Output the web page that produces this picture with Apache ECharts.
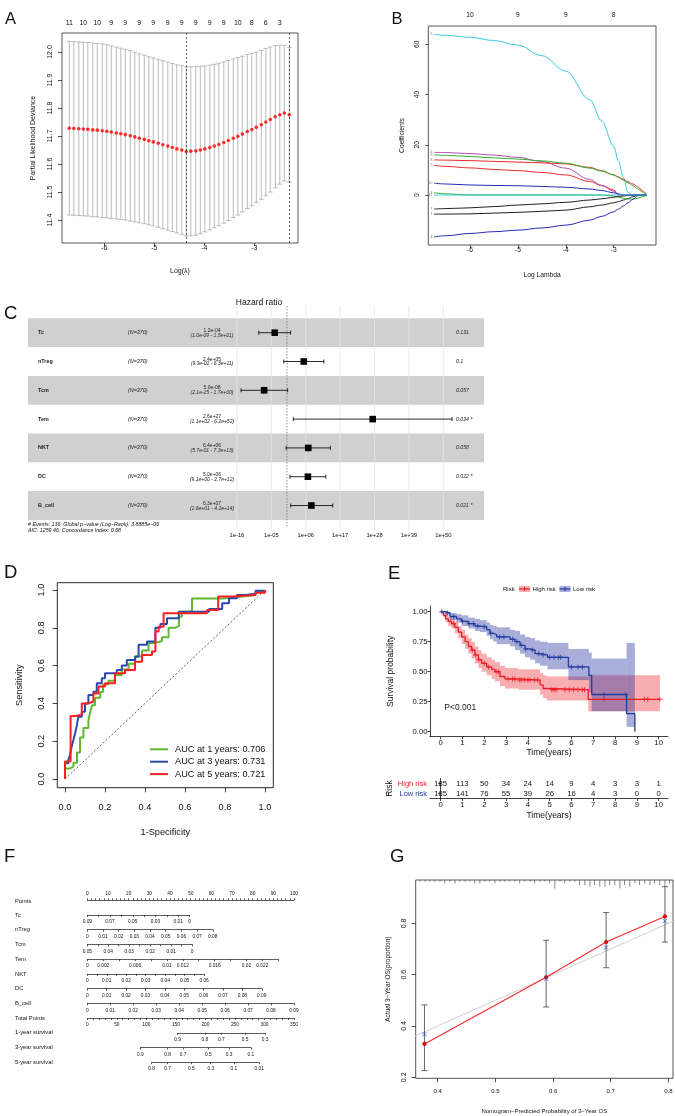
<!DOCTYPE html>
<html lang="en">
<head>
<meta charset="UTF-8">
<title>LASSO-Cox model figure</title>
<script src="https://cdn.jsdelivr.net/npm/echarts@6.0.0/dist/echarts.min.js"></script>
<style>
    * { margin: 0; padding: 0; }
    body { background: #fff; }
    #main { width: 675px; height: 1116px; }
</style>
</head>
<body>
<div id="main"></div>
<script>
var FONT = 'Liberation Sans';

// ---- A: cross-validation curve ----
var cvLambda = [-6.70,-6.61,-6.51,-6.42,-6.33,-6.23,-6.14,-6.04,-5.95,-5.86,
    -5.76,-5.67,-5.58,-5.48,-5.39,-5.30,-5.20,-5.11,-5.02,-4.92,
    -4.83,-4.73,-4.64,-4.55,-4.45,-4.36,-4.27,-4.17,-4.08,-3.99,
    -3.89,-3.80,-3.71,-3.61,-3.52,-3.42,-3.33,-3.24,-3.14,-3.05,
    -2.96,-2.86,-2.77,-2.68,-2.58,-2.49,-2.40,-2.30];
var cvMean = [11.728,11.727,11.726,11.725,11.724,11.722,11.721,11.719,11.717,11.714,
    11.711,11.708,11.705,11.701,11.697,11.692,11.688,11.683,11.679,11.674,
    11.669,11.664,11.659,11.654,11.650,11.645,11.646,11.647,11.650,11.654,
    11.659,11.664,11.670,11.677,11.684,11.692,11.699,11.707,11.716,11.723,
    11.731,11.740,11.750,11.759,11.769,11.776,11.782,11.776];
var cvSd = [0.310,0.310,0.310,0.310,0.310,0.310,0.310,0.310,0.309,0.308,
    0.307,0.306,0.305,0.304,0.303,0.302,0.301,0.300,0.300,0.300,
    0.300,0.300,0.300,0.300,0.301,0.302,0.302,0.301,0.299,0.296,
    0.294,0.292,0.290,0.288,0.286,0.283,0.281,0.278,0.275,0.272,
    0.269,0.266,0.263,0.259,0.254,0.248,0.242,0.240];
var cvNzero = ['11','10','10','9','9','9','9','9','9','9','9','9','10','8','6','3'];
var cvLambdaMin = -4.36;
var cvLambda1se = -2.30;

// ---- B: coefficient paths ----
var coefLambda = [-6.75,-6.5,-6.0,-5.5,-5.0,-4.5,-4.0,-3.5,-3.25,-3.0,-2.9,-2.8,-2.7,-2.6,-2.5,-2.4,-2.31];
var coefVar1 = [-7.6,-7.6,-7.5,-7.2,-6.9,-6.5,-6.0,-4.7,-4.0,-3.1,-2.6,-2.0,-1.4,-0.7,0,0,0];
var coefVar2 = [11.8,11.4,10.8,10.2,9.7,9.0,8.0,5.4,3.8,2.0,0,0,0,0,0,0,0];
var coefVar3 = [0.9,0.5,0,0,0,0,0,0,0,-0.4,-0.8,-1.3,-1.6,-1.6,-1.3,-0.7,0];
var coefVar4 = [-16.7,-16.2,-15.3,-14.6,-14.0,-13.1,-12.0,-10.0,-8.5,-6.7,-5.6,-4.4,-3.1,-1.7,-0.3,0,0];
var coefVar5 = [64.0,63.6,62.8,61.5,59.7,55.5,49.3,38.0,29.5,19.5,13.5,7.0,1.0,0,0,0,0];
var coefVar6 = [17.0,16.9,16.5,15.9,15.0,13.3,10.7,6.2,3.8,1.5,0,0,0,0,0,0,0];
var coefVar7 = [-5.6,-5.4,-5.1,-4.6,-4.0,-3.5,-2.9,-2.0,-1.5,-0.9,-0.6,-0.4,-0.2,-0.1,0,0,0];
var coefVar8 = [14.0,13.9,13.7,13.4,13.1,12.8,12.4,11.0,9.7,8.0,7.2,6.3,5.3,4.4,3.3,1.7,0];
var coefVar9 = [16.0,15.8,15.3,14.8,14.3,13.6,12.7,10.7,9.5,8.0,7.0,5.9,4.8,3.7,2.5,1.2,0];
var coefVar10 = [4.7,4.4,4.0,3.8,3.7,3.4,3.1,2.4,1.8,0.9,0.5,0,0,0,0,0,0];
var coefVar11 = [0,0,0,0,0,0,0,0,0,0,0,0,0,0,0,0,0];
var coefDfAt = [-6,-5,-4,-3];
var coefDf = ['10','9','9','8'];

// ---- C: multivariate Cox forest ----
var coxVars = ['Tc','nTreg','Tcm','Tem','NKT','DC','B_cell'];
var coxN = [370,370,370,370,370,370,370];
var coxHR = [1.2e-4, 2.4e5, 5.0e-8, 2.6e27, 6.4e6, 5.0e6, 6.3e7];
var coxLo = [1.0e-9, 9.3e-2, 2.1e-15, 1.1e2, 5.7e-1, 9.1e0, 1.6e1];
var coxHi = [1.5e1, 6.3e11, 1.7e0, 6.2e52, 7.3e13, 2.7e12, 4.2e14];
var coxP = ['0.131','0.1','0.057','0.034 *','0.058','0.022 *','0.021 *'];
var coxTicks = [1e-16, 1e-5, 1e6, 1e17, 1e28, 1e39, 1e50];

// ---- D: time-dependent ROC ----
var roc1X = [0,0,0.025,0.042,0.06,0.075,0.092,0.117,0.125,0.135,0.15,0.176,0.19,0.217,0.25,0.284,0.318,0.35,0.385,0.418,0.45,0.485,0.518,0.55,0.57,0.585,0.62,0.635,0.786,0.886,0.953,1.0];
var roc1Y = [0,0.056,0.065,0.086,0.14,0.22,0.27,0.31,0.35,0.39,0.43,0.46,0.50,0.52,0.55,0.58,0.61,0.65,0.68,0.72,0.73,0.75,0.80,0.81,0.86,0.885,0.89,0.955,0.965,0.974,0.99,1.0];
var roc3X = [0,0,0.017,0.025,0.033,0.042,0.05,0.058,0.067,0.084,0.1,0.117,0.142,0.159,0.184,0.2,0.259,0.284,0.309,0.351,0.368,0.41,0.452,0.477,0.51,0.569,0.72,0.786,0.82,0.86,0.90,0.953,1.0];
var roc3Y = [0,0.083,0.10,0.127,0.17,0.206,0.24,0.277,0.33,0.356,0.40,0.444,0.462,0.506,0.533,0.56,0.577,0.60,0.63,0.647,0.71,0.727,0.80,0.82,0.85,0.885,0.90,0.93,0.956,0.974,0.98,0.996,1.0];
var roc5X = [0,0,0.028,0.058,0.084,0.117,0.142,0.167,0.2,0.25,0.3,0.35,0.385,0.435,0.452,0.468,0.493,0.71,0.766,0.836,0.953,1.0];
var roc5Y = [0,0.092,0.333,0.342,0.40,0.41,0.453,0.49,0.506,0.56,0.577,0.62,0.656,0.674,0.78,0.806,0.877,0.894,0.965,0.974,0.986,1.0];
var rocNames = ['AUC at 1 years: 0.706','AUC at 3 years: 0.731','AUC at 5 years: 0.721'];

// ---- E: Kaplan-Meier by risk group ----
var kmHighT = [0,0.12,0.23,0.35,0.5,0.65,0.81,0.96,1.12,1.27,1.42,1.57,1.73,1.88,2.11,2.34,2.49,2.72,2.95,3.56,4.56,4.7,4.86,6.77,10.06];
var kmHighS = [1.0,0.97,0.94,0.92,0.90,0.87,0.83,0.79,0.75,0.71,0.68,0.64,0.60,0.57,0.54,0.52,0.50,0.46,0.44,0.43,0.39,0.36,0.35,0.27,0.27];
var kmHighLo = [1.0,0.95,0.91,0.88,0.86,0.82,0.78,0.73,0.69,0.65,0.61,0.57,0.53,0.50,0.47,0.44,0.42,0.38,0.36,0.35,0.31,0.28,0.26,0.17,0.17];
var kmHighUp = [1.0,0.99,0.97,0.96,0.94,0.92,0.88,0.85,0.81,0.78,0.75,0.71,0.68,0.65,0.62,0.60,0.58,0.55,0.53,0.52,0.49,0.47,0.46,0.47,0.47];
var kmLowT = [0,0.2,0.43,0.73,0.96,1.27,1.57,1.8,2.11,2.26,2.42,2.57,3.18,3.41,3.64,3.87,4.1,4.33,4.56,4.9,5.86,6.8,6.93,8.53,8.91];
var kmLowS = [1.0,0.99,0.96,0.94,0.92,0.90,0.88,0.875,0.85,0.82,0.81,0.79,0.77,0.75,0.72,0.69,0.68,0.65,0.64,0.62,0.54,0.47,0.31,0.15,0.0];
var kmLowLo = [1.0,0.97,0.93,0.91,0.88,0.86,0.84,0.83,0.80,0.77,0.75,0.73,0.71,0.68,0.65,0.62,0.60,0.57,0.55,0.52,0.43,0.33,0.17,0.04,0.04];
var kmLowUp = [1.0,1.0,0.99,0.98,0.97,0.95,0.94,0.93,0.91,0.89,0.88,0.87,0.85,0.84,0.81,0.79,0.78,0.76,0.75,0.74,0.69,0.66,0.61,0.74,0.74];
var kmHighCens = [0.6,1.45,1.6,1.75,2.0,2.2,2.55,2.65,3.1,3.3,3.4,3.6,3.7,3.85,4.0,4.1,4.3,4.45,5.1,5.2,5.3,5.7,5.9,6.1,6.3,6.5,6.6,7.5,9.35,9.5,10.06];
var kmLowCens = [0.05,0.3,0.6,1.0,1.3,1.5,1.7,2.0,2.3,2.7,2.9,3.3,3.5,3.7,3.9,4.2,4.5,4.7,5.0,5.2,5.4,5.5,6.0,6.3,6.5,7.5,8.5];
var riskT = [0,1,2,3,4,5,6,7,8,9,10];
var riskHigh = [185,113,50,34,24,14,9,4,3,3,1];
var riskLow = [185,141,76,55,39,26,16,4,3,0,0];
var riskGroups = ['High risk','Low risk'];

// ---- F: nomogram ----
var nomoNames = ['Tc','nTreg','Tcm','Tem','NKT','DC','B_cell'];
var nomoFrom = [0.09, 0, 0.05, 0, 0, 0, 0];
var nomoTo = [0, 0.08, 0, 0.024, 0.06, 0.09, 0.09];
var nomoPtsEnd = [49.5, 60.7, 50.7, 92.4, 56.5, 84.4, 100];
var nomoTickStep = [0.01, 0.01, 0.005, 0.002, 0.005, 0.01, 0.01];
var nomoLabels = [
    [0.09,0.07,0.05,0.03,0.01,0],
    [0,0.01,0.02,0.03,0.04,0.05,0.06,0.07,0.08],
    [0.05,0.04,0.03,0.02,0.01,0],
    [0,0.002,0.006,0.01,0.012,0.016,0.02,0.022],
    [0,0.01,0.02,0.03,0.04,0.05,0.06],
    [0,0.01,0.02,0.03,0.04,0.05,0.06,0.07,0.08,0.09],
    [0,0.01,0.02,0.03,0.04,0.05,0.06,0.07,0.08,0.09]
];
var pointsLabels = [0,10,20,30,40,50,60,70,80,90,100];
var totalLabels = [0,50,100,150,200,250,300,350];
var survNames = ['1-year survival','3-year survival','5-year survival'];
var survLabels = [
    ['0.9','0.8','0.7','0.5','0.3'],
    ['0.9','0.8','0.7','0.5','0.3','0.1'],
    ['0.8','0.7','0.5','0.3','0.1','0.01']
];
var survPts = [
    [153,199,227,267,301],
    [90,136,162,205,240,277],
    [109,136,176,209,248,291]
];

// ---- G: calibration ----
var calPred = [0.377, 0.588, 0.692, 0.794];
var calObs = [0.330, 0.590, 0.727, 0.827];
var calLo = [0.226, 0.474, 0.627, 0.727];
var calHi = [0.482, 0.734, 0.842, 0.943];
var calCorrected = [0.368, 0.584, 0.706, 0.809];
var rugX = [0.369,0.378,0.386,0.395,0.404,0.412,0.421,0.430,0.438,0.447,
    0.456,0.464,0.473,0.482,0.490,0.499,0.508,0.516,0.525,0.534,
    0.542,0.551,0.560,0.568,0.577,0.586,0.594,0.603,0.612,0.620,
    0.629,0.638,0.646,0.655,0.664,0.672,0.681,0.690,0.698,0.707,
    0.716,0.724,0.733,0.742,0.750,0.759,0.768,0.776,0.785,0.794,0.802];
var rugCount = [1,1,1,1,1,2,1,2,1,1,
    1,2,2,1,1,2,1,1,1,1,
    2,1,1,2,1,1,2,5,1,2,
    1,1,3,3,4,3,4,4,3,3,
    5,3,4,2,3,2,3,2,3,4,2];

// ---------------------------------------------------------------
var grids = [], xAxes = [], yAxes = [], series = [], graphics = [];

function addGrid(box, border) {
    grids.push({left: box[0], top: box[1], width: box[2], height: box[3],
        show: !!border, borderColor: border || 'transparent', borderWidth: border ? 0.9 : 0,
        backgroundColor: 'transparent', containLabel: false, outerBoundsMode: 'none'});
    return grids.length - 1;
}
function addX(a) { xAxes.push(a); return xAxes.length - 1; }
function addY(a) { yAxes.push(a); return yAxes.length - 1; }

function pick(at, labels) {
    return function (v) {
        for (var i = 0; i < at.length; i++) {
            if (Math.abs(at[i] - v) < 1e-6) return labels[i];
        }
        return '';
    };
}
function seq(a, b, s) {
    var r = [];
    for (var k = 0; a + k * s <= b + s * 1e-6; k++) r.push(+(a + k * s).toFixed(6));
    return r;
}
function fmt1(v) { return v.toFixed(1); }
function fmt2(v) { return v.toFixed(2); }
function decade(v) {
    var e = Math.round(v), a = Math.abs(e);
    return '1e' + (e < 0 ? '-' : '+') + (a < 10 ? '0' : '') + a;
}
function sci(v) {
    var m = v.toExponential(1).split('e'), e = parseInt(m[1], 10), a = Math.abs(e);
    return m[0] + 'e' + (e < 0 ? '-' : '+') + (a < 10 ? '0' : '') + a;
}

// R-style axis: ticks + labels at given values
function rAxis(o) {
    return {
        gridIndex: o.grid, type: 'value', min: o.min, max: o.max,
        position: o.position, inverse: !!o.inverse,
        axisLine: {show: !!o.line, onZero: false, lineStyle: {color: o.lineColor || '#222', width: 0.8}},
        axisTick: {show: !!o.tickLen, length: o.tickLen || 0, inside: false,
            customValues: o.ticks || [], lineStyle: {color: o.lineColor || '#222', width: 0.8}},
        axisLabel: {show: true, customValues: o.labelAt || o.ticks || [], formatter: o.fmt,
            fontSize: o.font, margin: o.margin, rotate: o.rotate || 0,
            color: '#111', fontFamily: FONT},
        splitLine: {show: false},
        name: o.name || '', nameLocation: 'middle', nameGap: o.nameGap || 0,
        nameTextStyle: {fontSize: o.nameFont || 7, color: '#111', fontFamily: FONT}
    };
}
function hiddenY(g) {
    return {gridIndex: g, type: 'value', min: 0, max: 1, show: false};
}

function errorBars(half, color, width) {
    return function (params, api) {
        var top = api.coord([api.value(0), api.value(2)]);
        var bot = api.coord([api.value(0), api.value(1)]);
        var st = {stroke: color, lineWidth: width};
        return {type: 'group', children: [
            {type: 'line', shape: {x1: top[0], y1: top[1], x2: bot[0], y2: bot[1]}, style: st},
            {type: 'line', shape: {x1: top[0] - half, y1: top[1], x2: top[0] + half, y2: top[1]}, style: st},
            {type: 'line', shape: {x1: bot[0] - half, y1: bot[1], x2: bot[0] + half, y2: bot[1]}, style: st}
        ]};
    };
}
function T(x, y, text, size, extra) {
    var st = {text: text, fontSize: size, fontFamily: FONT, fill: '#111', align: 'left', verticalAlign: 'middle'};
    for (var k in (extra || {})) st[k] = extra[k];
    graphics.push({type: 'text', x: x, y: y, silent: true, style: st});
}
function xy(xs, ys) { return xs.map(function (x, i) { return [x, ys[i]]; }); }

// ================= A =================
var gA = addGrid([62, 33, 236, 210], '#444');
var xA = addX(rAxis({grid: gA, min: -6.846, max: -2.126, ticks: [-6, -5, -4, -3], fmt: String,
    font: 7, margin: 2, tickLen: 3, name: 'Log(λ)', nameGap: 25, nameFont: 7}));
var cvTopAt = cvLambda.filter(function (v, i) { return i % 3 === 0; });
addX(rAxis({grid: gA, position: 'top', min: -6.846, max: -2.126, labelAt: cvTopAt,
    fmt: pick(cvTopAt, cvNzero), font: 7, margin: 6.5}));
var yA = addY(rAxis({grid: gA, min: 11.318, max: 12.068, ticks: [11.4, 11.5, 11.6, 11.7, 11.8, 11.9, 12.0],
    fmt: fmt1, font: 7, margin: 8.5, tickLen: 4, rotate: 90,
    name: 'Partial Likelihood Deviance', nameGap: 25.5, nameFont: 7}));
series.push({
    type: 'custom', xAxisIndex: xA, yAxisIndex: yA, silent: true, z: 2,
    encode: {x: 0, y: [1, 2]},
    data: cvLambda.map(function (x, i) { return [x, cvMean[i] - cvSd[i], cvMean[i] + cvSd[i]]; }),
    renderItem: errorBars(2.3, '#a9a9a9', 0.8)
});
series.push({
    type: 'scatter', xAxisIndex: xA, yAxisIndex: yA, z: 3, symbolSize: 3.6, silent: true,
    itemStyle: {color: '#ff0000'},
    data: xy(cvLambda, cvMean),
    markLine: {silent: true, symbol: 'none', label: {show: false},
        lineStyle: {color: '#333', type: [2, 2], width: 0.8},
        data: [{xAxis: cvLambdaMin}, {xAxis: cvLambda1se}]}
});

// ================= B =================
var gB = addGrid([428.3, 26, 227.7, 219], '#444');
var xB = addX(rAxis({grid: gB, min: -6.87, max: -2.117, ticks: [-6, -5, -4, -3], fmt: String,
    font: 6.7, margin: 2, tickLen: 3, name: 'Log Lambda', nameGap: 26.5, nameFont: 6.7}));
addX(rAxis({grid: gB, position: 'top', min: -6.87, max: -2.117, labelAt: coefDfAt,
    fmt: pick(coefDfAt, coefDf), font: 6.7, margin: 7.5}));
var yB = addY(rAxis({grid: gB, min: -19.9, max: 67.3, ticks: [0, 20, 40, 60], fmt: String,
    font: 6.7, margin: 7.5, tickLen: 3, rotate: 90, name: 'Coefficients', nameGap: 23, nameFont: 6.7}));
var coefPaths = [coefVar1, coefVar2, coefVar3, coefVar4, coefVar5, coefVar6,
    coefVar7, coefVar8, coefVar9, coefVar10, coefVar11];
var coefColors = ['#222222', '#ec2a2a', '#2db52d', '#2b2bb5', '#3cc8da', '#b54cb5'];
coefPaths.forEach(function (path, i) {
    series.push({
        type: 'line', xAxisIndex: xB, yAxisIndex: yB, symbol: 'none', silent: true, z: 2,
        smooth: 0.35, smoothMonotone: 'x',
        lineStyle: {color: coefColors[i % 6], width: 1},
        data: xy(coefLambda, path)
    });
});
series.push({
    type: 'scatter', xAxisIndex: xB, yAxisIndex: yB, symbolSize: 1, silent: true,
    itemStyle: {color: 'transparent'},
    data: coefPaths.map(function (path, i) { return [coefLambda[0], path[0], i + 1]; }),
    label: {show: true, position: 'left', distance: 1, fontSize: 4, color: '#666', fontFamily: FONT,
        formatter: function (p) { return p.value[2]; }}
});

// ================= C =================
var gC = addGrid([28, 306, 456, 224]);
var coxTickLog = coxTicks.map(function (t) { return Math.round(Math.log10(t)); });
var xC = addX(rAxis({grid: gC, min: -82.8, max: 63, labelAt: coxTickLog, fmt: decade, font: 5.8, margin: 2}));
var yC = addY({gridIndex: gC, type: 'value', inverse: true, min: -0.927, max: 6.85, show: false});
series.push({
    type: 'custom', xAxisIndex: xC, yAxisIndex: yC, silent: true, z: 1,
    encode: {x: 0, y: 1},
    data: coxVars.map(function (v, i) { return [0, i]; }).filter(function (d) { return d[1] % 2 === 0; }),
    renderItem: function (params, api) {
        var cs = params.coordSys;
        var a = api.coord([0, api.value(1) - 0.5]), b = api.coord([0, api.value(1) + 0.5]);
        return {type: 'rect', shape: {x: cs.x, y: a[1], width: cs.width, height: b[1] - a[1]},
            style: {fill: '#d0d0d0'}};
    }
});
series.push({
    type: 'custom', xAxisIndex: xC, yAxisIndex: yC, silent: true, z: 2,
    encode: {x: 0, y: 1},
    data: coxTickLog.map(function (t) { return [t, 0]; }),
    renderItem: function (params, api) {
        var cs = params.coordSys, p = api.coord([api.value(0), 0]);
        return {type: 'line', shape: {x1: p[0], y1: cs.y, x2: p[0], y2: cs.y + cs.height},
            style: {stroke: '#e4e4e4', lineWidth: 0.8}};
    }
});
series.push({
    type: 'custom', xAxisIndex: xC, yAxisIndex: yC, silent: true, z: 2,
    encode: {x: 0, y: 1},
    data: [[0, 0]],
    renderItem: function (params, api) {
        var cs = params.coordSys, p = api.coord([api.value(0), 0]);
        return {type: 'line', shape: {x1: p[0], y1: cs.y, x2: p[0], y2: cs.y + cs.height - 3},
            style: {stroke: '#777', lineWidth: 0.8, lineDash: [1.5, 1.5]}};
    }
});
series.push({
    type: 'custom', xAxisIndex: xC, yAxisIndex: yC, silent: true, z: 3,
    encode: {x: [1, 2, 3], y: 0},
    data: coxVars.map(function (v, i) {
        return [i, Math.log10(coxHR[i]), Math.log10(coxLo[i]), Math.log10(coxHi[i])];
    }),
    renderItem: function (params, api) {
        var cs = params.coordSys, i = api.value(0);
        var c = api.coord([api.value(1), i]);
        var lo = api.coord([api.value(2), i]);
        var hi = api.coord([api.value(3), i]);
        var y = c[1];
        var base = {fontFamily: FONT, fill: '#222', verticalAlign: 'middle'};
        function tx(x, yy, text, size, more) {
            var st = {text: text, fontSize: size, align: 'left'};
            for (var k in base) st[k] = base[k];
            for (var m in (more || {})) st[m] = more[m];
            return {type: 'text', x: x, y: yy, style: st};
        }
        var ln = {stroke: '#111', lineWidth: 0.9};
        return {type: 'group', children: [
            tx(cs.x + 10, y, coxVars[i], 5.4, {fontWeight: 'bold'}),
            tx(cs.x + 100, y, '(N=' + coxN[i] + ')', 5.4, {fontStyle: 'italic'}),
            tx(cs.x + 184, y - 2.3, sci(coxHR[i]), 5, {align: 'center'}),
            tx(cs.x + 184, y + 2.6, '(' + sci(coxLo[i]) + ' - ' + sci(coxHi[i]) + ')', 5, {align: 'center', fontStyle: 'italic'}),
            tx(cs.x + 428, y, coxP[i], 5.2, {fontStyle: 'italic'}),
            {type: 'line', shape: {x1: lo[0], y1: y, x2: hi[0], y2: y}, style: ln},
            {type: 'line', shape: {x1: lo[0], y1: y - 2, x2: lo[0], y2: y + 2}, style: ln},
            {type: 'line', shape: {x1: hi[0], y1: y - 2, x2: hi[0], y2: y + 2}, style: ln},
            {type: 'rect', shape: {x: c[0] - 3.3, y: y - 3.3, width: 6.6, height: 6.6}, style: {fill: '#000'}}
        ]};
    }
});
T(259, 303, 'Hazard ratio', 8.5, {align: 'center'});
T(28, 524.3, '# Events: 136; Global p\u2212value (Log\u2212Rank): 3.8885e\u221206', 5.3, {fontStyle: 'italic'});
T(28, 530.3, 'AIC: 1259.46; Concordance Index: 0.68', 5.3, {fontStyle: 'italic'});

// ================= D =================
var gD = addGrid([57.3, 582.7, 216, 205], '#111');
var xD = addX(rAxis({grid: gD, min: -0.0385, max: 1.0416, ticks: [0, 0.2, 0.4, 0.6, 0.8, 1], fmt: fmt1,
    font: 9.2, margin: 15.6, tickLen: 4.7, lineColor: '#111', name: '1-Specificity', nameGap: 40.3, nameFont: 9.2}));
var yD = addY(rAxis({grid: gD, min: -0.046, max: 1.0386, ticks: [0, 0.2, 0.4, 0.6, 0.8, 1], fmt: fmt1,
    font: 9.2, margin: 11, tickLen: 4.7, rotate: 90, lineColor: '#111', name: 'Sensitivity', nameGap: 33.5, nameFont: 9.2}));
series.push({
    type: 'line', xAxisIndex: xD, yAxisIndex: yD, symbol: 'none', silent: true, z: 2,
    lineStyle: {color: '#333', width: 0.8, type: [2, 2]},
    data: [[0, 0], [1, 1]]
});
[[roc1X, roc1Y, '#5fb833'], [roc3X, roc3Y, '#2a49ad'], [roc5X, roc5Y, '#ff1f1f']].forEach(function (r, i) {
    series.push({
        name: rocNames[i], type: 'line', xAxisIndex: xD, yAxisIndex: yD, symbol: 'none', silent: true,
        step: 'end', z: 3 + i, color: r[2],
        itemStyle: {color: r[2]},
        lineStyle: {color: r[2], width: 2},
        data: xy(r[0], r[1])
    });
});

// ================= E =================
var gE = addGrid([430, 606, 238, 130.7]);
var xE = addX(rAxis({grid: gE, min: -0.49, max: 10.43, line: true, ticks: riskT, fmt: String,
    font: 7.7, margin: 2.5, tickLen: 2.5, lineColor: '#111', name: 'Time(years)', nameGap: 11.8, nameFont: 8.5}));
var yE = addY(rAxis({grid: gE, min: -0.0417, max: 1.0475, line: true, ticks: [0, 0.25, 0.5, 0.75, 1], fmt: fmt2,
    font: 7.7, margin: 2.5, tickLen: 2.5, lineColor: '#111', name: 'Survival probability', nameGap: 34.7, nameFont: 8.5}));

var kmGroups = [
    {t: kmHighT, s: kmHighS, lo: kmHighLo, up: kmHighUp, cens: kmHighCens, line: '#ec1c24', band: 'rgba(236,28,36,0.36)'},
    {t: kmLowT, s: kmLowS, lo: kmLowLo, up: kmLowUp, cens: kmLowCens, line: '#1f3b9c', band: 'rgba(40,50,160,0.40)'}
];
function kmAt(g, t) {
    var s = g.s[0];
    for (var i = 0; i < g.t.length; i++) { if (g.t[i] <= t) s = g.s[i]; }
    return s;
}
// confidence bands: one rectangle per step interval
kmGroups.forEach(function (g, k) {
    var cells = [];
    for (var i = 0; i < g.t.length - 1; i++) cells.push([g.t[i], g.t[i + 1], g.lo[i], g.up[i]]);
    series.push({
        type: 'custom', xAxisIndex: xE, yAxisIndex: yE, silent: true, z: 1 + k,
        encode: {x: [0, 1], y: [2, 3]},
        data: cells,
        renderItem: function (params, api) {
            var a = api.coord([api.value(0), api.value(3)]);
            var b = api.coord([api.value(1), api.value(2)]);
            return {type: 'rect', shape: {x: a[0], y: a[1], width: b[0] - a[0] + 0.01, height: b[1] - a[1]},
                style: {fill: g.band}};
        }
    });
});
kmGroups.forEach(function (g, k) {
    series.push({
        type: 'line', xAxisIndex: xE, yAxisIndex: yE, symbol: 'none', silent: true, step: 'end', z: 5 + k,
        lineStyle: {color: g.line, width: 1.3},
        data: xy(g.t, g.s)
    });
    series.push({
        type: 'scatter', xAxisIndex: xE, yAxisIndex: yE, silent: true, z: 6 + k,
        symbol: 'path://M4,0h2v4h4v2h-4v4h-2v-4h-4v-2h4z', symbolSize: 5,
        itemStyle: {color: g.line},
        data: g.cens.map(function (t) { return [t, kmAt(g, t)]; })
    });
});
T(444.3, 707.7, 'P<0.001', 8.5, {fill: '#222'});
// legend of E
T(503, 589, 'Risk', 6);
graphics.push({type: 'rect', silent: true, shape: {x: 519, y: 586, width: 11, height: 6}, style: {fill: 'rgba(236,28,36,0.36)'}});
graphics.push({type: 'line', silent: true, shape: {x1: 519, y1: 589, x2: 530, y2: 589}, style: {stroke: '#ec1c24', lineWidth: 1.2}});
graphics.push({type: 'line', silent: true, shape: {x1: 524.5, y1: 587, x2: 524.5, y2: 591}, style: {stroke: '#ec1c24', lineWidth: 1}});
T(532.5, 589, 'High risk', 6);
graphics.push({type: 'rect', silent: true, shape: {x: 559.5, y: 586, width: 11, height: 6}, style: {fill: 'rgba(40,50,160,0.40)'}});
graphics.push({type: 'line', silent: true, shape: {x1: 559.5, y1: 589, x2: 570.5, y2: 589}, style: {stroke: '#1f3b9c', lineWidth: 1.2}});
graphics.push({type: 'line', silent: true, shape: {x1: 565, y1: 587, x2: 565, y2: 591}, style: {stroke: '#1f3b9c', lineWidth: 1}});
T(573, 589, 'Low risk', 6);

// risk table
var gR = addGrid([430, 778.5, 238, 20]);
var xR = addX(rAxis({grid: gR, min: -0.49, max: 10.43, line: true, ticks: riskT, fmt: String,
    font: 7.7, margin: 2.5, tickLen: 2.5, lineColor: '#111', name: 'Time(years)', nameGap: 12.2, nameFont: 8.5}));
var yR = addY({
    gridIndex: gR, type: 'category', data: riskGroups, inverse: true,
    axisLine: {show: true, lineStyle: {color: '#111', width: 0.8}},
    axisTick: {show: true, length: 2.5, alignWithLabel: true, interval: 0, lineStyle: {color: '#111', width: 0.8}},
    axisLabel: {interval: 0, margin: 3, fontSize: 7.5, fontFamily: FONT,
        formatter: function (v, i) { return i === 0 ? '{h|' + v + '}' : '{l|' + v + '}'; },
        rich: {h: {color: '#ec1c24', fontSize: 7.5, fontFamily: FONT}, l: {color: '#1f3b9c', fontSize: 7.5, fontFamily: FONT}}},
    splitLine: {show: false},
    name: 'Risk', nameLocation: 'middle', nameGap: 34.7,
    nameTextStyle: {fontSize: 8.5, color: '#111', fontFamily: FONT}
});
series.push({
    type: 'custom', xAxisIndex: xR, yAxisIndex: yR, silent: true,
    encode: {x: 0, y: 1},
    data: riskT.map(function (t, i) { return [t, 0, riskHigh[i]]; })
        .concat(riskT.map(function (t, i) { return [t, 1, riskLow[i]]; })),
    renderItem: function (params, api) {
        var p = api.coord([api.value(0), api.value(1)]);
        return {type: 'text', x: p[0], y: p[1], style: {text: String(api.value(2)), fontSize: 7.7,
            fontFamily: FONT, fill: '#111', align: 'center', verticalAlign: 'middle'}};
    }
});

// ================= F =================
var X0 = 87.3, PT = 2.067, TP = 206.7 / 350;
function rowY(k) { return 900.3 + 14.72 * k; }
var gP = addGrid([X0, rowY(0), 100 * PT, 1]);
addX(rAxis({grid: gP, position: 'top', min: 0, max: 100, line: true, lineColor: '#333', ticks: seq(0, 100, 2),
    labelAt: pointsLabels, fmt: String, font: 4.8, margin: 4.6, tickLen: 2}));
addY(hiddenY(gP));
T(15, rowY(0) + 0.7, 'Points', 5.8);
nomoNames.forEach(function (nm, i) {
    var lo = Math.min(nomoFrom[i], nomoTo[i]), hi = Math.max(nomoFrom[i], nomoTo[i]);
    var g = addGrid([X0, rowY(i + 1) - 1, nomoPtsEnd[i] * PT, 1]);
    addX(rAxis({grid: g, min: lo, max: hi, inverse: nomoFrom[i] > nomoTo[i], line: true, lineColor: '#333',
        ticks: seq(lo, hi, nomoTickStep[i]), labelAt: nomoLabels[i], fmt: String,
        font: 4.8, margin: 4.4, tickLen: 2}));
    addY(hiddenY(g));
    T(15, rowY(i + 1), nm, 5.8);
});
var gTot = addGrid([X0, rowY(8) - 1, 350 * TP, 1]);
addX(rAxis({grid: gTot, min: 0, max: 350, line: true, lineColor: '#333', ticks: seq(0, 350, 10),
    labelAt: totalLabels, fmt: String, font: 4.8, margin: 4.4, tickLen: 2}));
addY(hiddenY(gTot));
T(15, rowY(8), 'Total Points', 5.8);
survNames.forEach(function (nm, i) {
    var pts = survPts[i], a = pts[0], b = pts[pts.length - 1];
    var g = addGrid([X0 + a * TP, rowY(9 + i) - 1, (b - a) * TP, 1]);
    addX(rAxis({grid: g, min: a, max: b, line: true, lineColor: '#333', ticks: pts,
        fmt: pick(pts, survLabels[i]), font: 4.8, margin: 4.4, tickLen: 2}));
    addY(hiddenY(g));
    T(15, rowY(9 + i), nm, 5.8);
});

// ================= G =================
var gG = addGrid([415.7, 880, 257.3, 198.3], '#444');
var xG = addX(rAxis({grid: gG, min: 0.3618, max: 0.808, ticks: [0.4, 0.5, 0.6, 0.7, 0.8], fmt: fmt1,
    font: 6, margin: 10, tickLen: 4, name: 'Nomogram\u2212Predicted Probability of 3\u2212Year OS', nameGap: 30.5, nameFont: 6}));
var yG = addY(rAxis({grid: gG, min: 0.196, max: 0.969, ticks: [0.2, 0.4, 0.6, 0.8], fmt: fmt1,
    font: 7, margin: 8, tickLen: 4, rotate: 90, name: 'Actual 3\u2212Year OS(proportion)', nameGap: 24, nameFont: 6.5}));
series.push({
    type: 'line', xAxisIndex: xG, yAxisIndex: yG, symbol: 'none', silent: true, z: 1,
    lineStyle: {color: '#cfcfcf', width: 1},
    data: [[0, 0], [1, 1]]
});
series.push({
    type: 'custom', xAxisIndex: xG, yAxisIndex: yG, silent: true, z: 2,
    encode: {x: 0, y: [1, 2]},
    data: calPred.map(function (x, i) { return [x, calLo[i], calHi[i]]; }),
    renderItem: errorBars(3, '#555', 0.9)
});
series.push({
    type: 'line', xAxisIndex: xG, yAxisIndex: yG, silent: true, z: 3,
    symbol: 'circle', symbolSize: 4.2, lineStyle: {color: '#f22b2b', width: 1.1},
    itemStyle: {color: '#d01010'},
    data: xy(calPred, calObs)
});
series.push({
    type: 'scatter', xAxisIndex: xG, yAxisIndex: yG, silent: true, z: 4,
    symbol: 'path://M1,0L5,4L9,0L10,1L6,5L10,9L9,10L5,6L1,10L0,9L4,5L0,1Z', symbolSize: 4.5,
    itemStyle: {color: '#2f4fd0'},
    data: xy(calPred, calCorrected)
});
series.push({
    type: 'custom', xAxisIndex: xG, yAxisIndex: yG, silent: true, z: 2,
    encode: {x: 0, y: 1},
    data: rugX.map(function (x, i) { return [x, 0.9, rugCount[i]]; }),
    renderItem: function (params, api) {
        var cs = params.coordSys, p = api.coord([api.value(0), 0.9]);
        return {type: 'line', shape: {x1: p[0], y1: cs.y, x2: p[0], y2: cs.y + api.value(2) * 1.7},
            style: {stroke: '#555', lineWidth: 0.7}};
    }
});

// ---- panel letters ----
T(5, 19, 'A', 16.5);
T(391.5, 19, 'B', 16.5);
T(4, 314, 'C', 18.5);
T(4, 573, 'D', 18.5);
T(388, 574, 'E', 18.5);
T(4, 857, 'F', 18.5);
T(390, 857, 'G', 18.5);

var chart = echarts.init(document.getElementById('main'));
chart.setOption({
    animation: false,
    backgroundColor: '#fff',
    textStyle: {fontFamily: FONT},
    grid: grids,
    xAxis: xAxes,
    yAxis: yAxes,
    legend: [{
        data: rocNames, orient: 'vertical', left: 150, top: 743.3, padding: 0, itemGap: 0.4,
        icon: 'rect', itemWidth: 18, itemHeight: 2, selectedMode: false,
        textStyle: {fontSize: 9.2, fontFamily: FONT, color: '#111', lineHeight: 12, padding: [0, 0, 0, 2]}
    }],
    series: series,
    graphic: graphics
});
</script>
</body>
</html>
